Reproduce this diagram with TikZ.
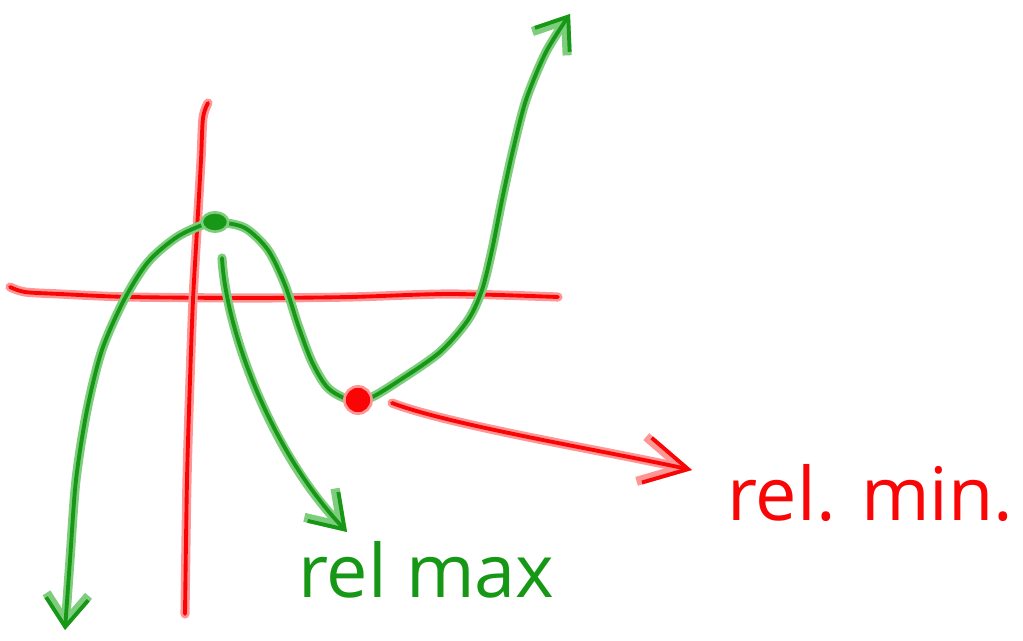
\documentclass[tikz,border=0pt]{standalone}
\usepackage{fontspec}
\setmainfont{Open Sans}
\usetikzlibrary{arrows.meta,shapes.geometric}
\definecolor{pengreen}{RGB}{22,152,22}
\definecolor{pengreenglow}{RGB}{125,205,125}
\definecolor{penred}{RGB}{250,5,5}
\definecolor{penredglow}{RGB}{255,150,150}

\begin{document}
\begin{tikzpicture}[x=0.02cm,y=-0.02cm,line cap=round,line join=round,
  greenpen/.style={draw=pengreen,line width=2.2pt,preaction={draw=pengreenglow,line width=5.2pt}},
  redpen/.style={draw=penred,line width=2.2pt,preaction={draw=penredglow,line width=5.2pt}},
  label/.style={font=\fontsize{42}{46}\selectfont,anchor=base west,inner sep=0pt}]
\useasboundingbox (0,0) rectangle (1023,641);
% axes
\draw[redpen] plot[smooth] coordinates {(10,287) (25,292) (60,294) (130,297) (250,298) (350,297) (450,294) (558,297)};
\draw[redpen] plot[smooth] coordinates {(208,103) (203,118) (201,160) (197,230) (193,300) (190,380) (187,480) (185,614)};
% the cubic
\draw[greenpen,{Straight Barb[length=16pt,width=24pt]}-{Straight Barb[length=16pt,width=24pt]}]
  plot[smooth] coordinates {(65,630) (70,560) (76,480) (87,410) (102,350) (124,300) (148,262) (177,237)
  (205,224) (218,222) (245,228) (268,250) (285,285) (298,325) (312,362) (328,388) (350,400) (370,398)
  (400,380) (440,352) (468,320) (482,290) (492,250) (502,200) (513,150) (526,100) (546,52) (570,14)};
% extrema
\node[ellipse,fill=pengreen,draw=pengreenglow,line width=1.5pt,minimum width=15pt,minimum height=11pt,inner sep=0pt] (maxdot) at (215,222) {};
\node[circle,fill=penred,draw=penredglow,line width=1.5pt,minimum size=15.5pt,inner sep=0pt] (mindot) at (358,400) {};
% labels
\node[label,text=pengreen] (relmax) at (298,597) {rel max};
\node[label,text=penred] (relmin) at (727,520) {rel. min.};
\coordinate (maxtail) at (222,258);
\coordinate (maxtip) at (347,532);
\coordinate (mintail) at (392,403);
\coordinate (mintip) at (692,470);
\draw[greenpen,-{Straight Barb[length=18pt,width=24pt]}] (maxtail) .. controls (226,330) and (270,450) .. (maxtip);
\draw[redpen,-{Straight Barb[length=24pt,width=26pt]}] (mintail) .. controls (450,425) and (600,450) .. (mintip);
\end{tikzpicture}
\end{document}
